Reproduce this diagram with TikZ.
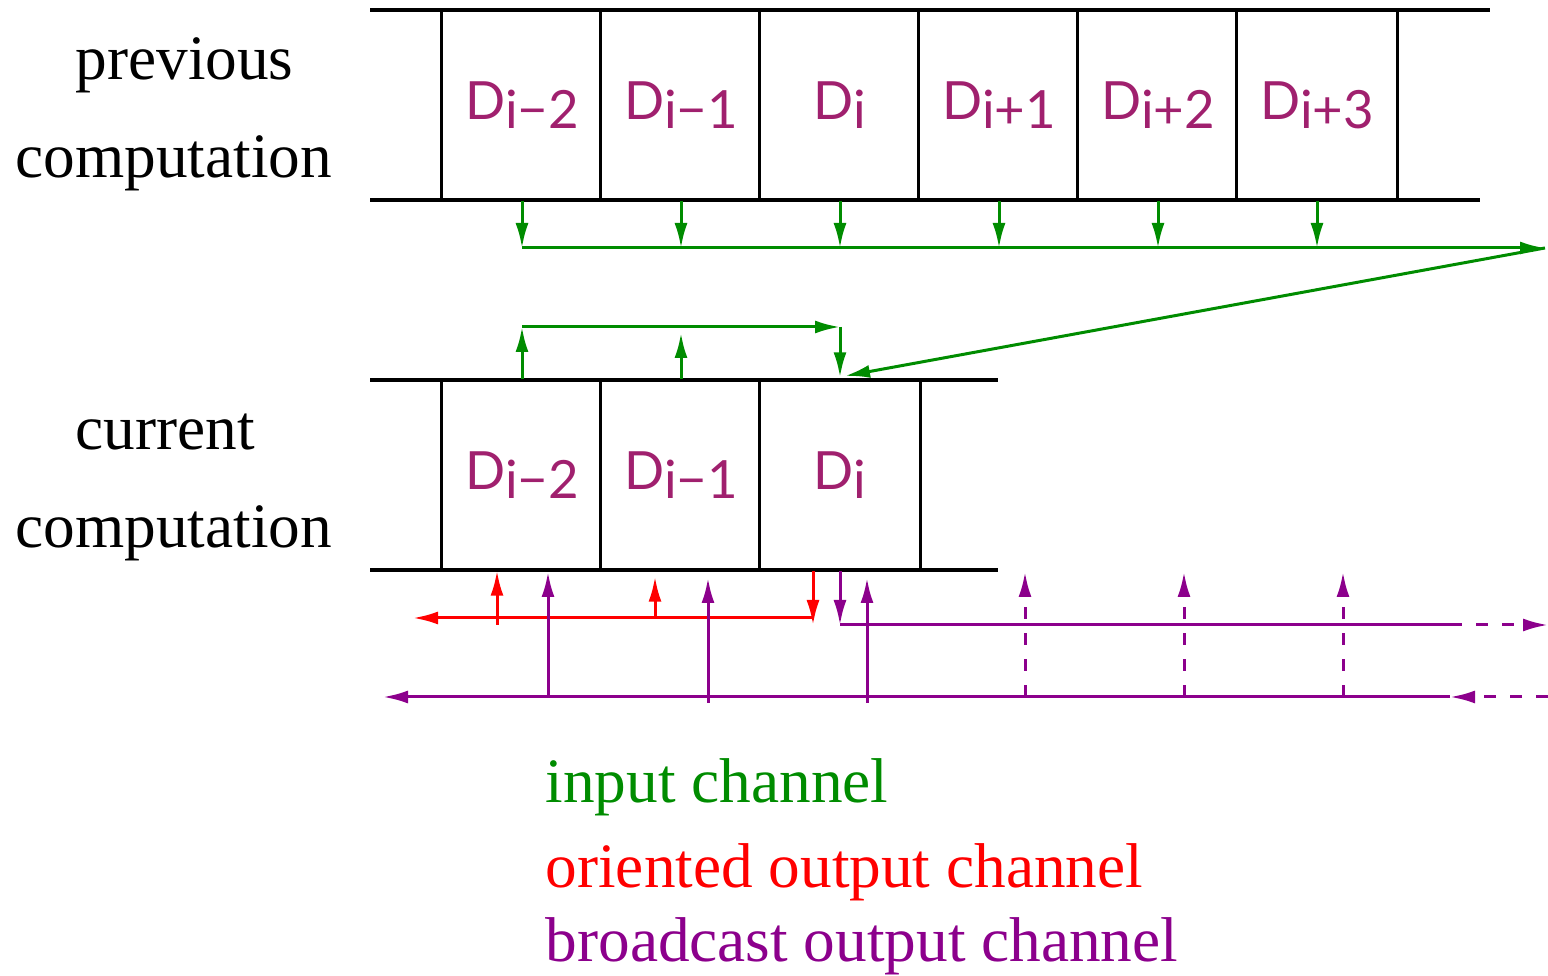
\documentclass[tikz,border=0pt]{standalone}
\usepackage{fontspec}
\setmainfont{Liberation Serif}
\newfontfamily\datafont{Lato}
\definecolor{ingreen}{RGB}{0, 140, 0}
\definecolor{orired}{RGB}{255, 0, 0}
\definecolor{bcpurple}{RGB}{140, 0, 140}
\definecolor{datamag}{RGB}{160, 32, 110}
\usetikzlibrary{arrows.meta, positioning}
\newcommand{\dlabel}[1]{D\raisebox{-0.9mm}{#1}}

\begin{document}
\begin{tikzpicture}[x=0.1mm, y=-0.1mm,
  band/.style={line width=0.32mm, black},
  cell/.style={minimum width=15.9mm, minimum height=19mm, inner sep=0pt, text=datamag, font=\datafont\fontsize{15}{17}\selectfont},
  chan/.style={line width=0.3mm, -{Latex[length=2.5mm, width=1.3mm]}},
  dashchan/.style={chan, dash pattern=on 1.2mm off 1.4mm},
  lbl/.style={anchor=base west, inner sep=0pt, font=\fontsize{18}{22}\selectfont}]
  \useasboundingbox (0,0) rectangle (1548,976);

  % Row labels
  \node[lbl] (prev1) at (75,80) {previous};
  \node[lbl] (prev2) at (15,178) {computation};
  \node[lbl] (cur1) at (75,450) {current};
  \node[lbl] (cur2) at (15,548) {computation};

  % Previous computation band
  \draw[band] (370,10) -- (1490,10);
  \draw[band] (370,200) -- (1480,200);
  \node[cell] (p1) at (522,105) {\dlabel{i−2}};
  \node[cell] (p2) at (681,105) {\dlabel{i−1}};
  \node[cell] (p3) at (840,105) {\dlabel{i}};
  \node[cell] (p4) at (999,105) {\dlabel{i+1}};
  \node[cell] (p5) at (1158,105) {\dlabel{i+2}};
  \node[cell] (p6) at (1317,105) {\dlabel{i+3}};
  \draw[band] (p1.north west) -- (p1.south west);
  \draw[band] (p2.north west) -- (p2.south west);
  \draw[band] (p3.north west) -- (p3.south west);
  \draw[band] (p4.north west) -- (p4.south west);
  \draw[band] (p5.north west) -- (p5.south west);
  \draw[band] (p6.north west) -- (p6.south west);
  \draw[band] (p6.north east) -- (p6.south east);

  % Current computation band
  \draw[band] (370,380) -- (998,380);
  \draw[band] (370,570) -- (998,570);
  \node[cell] (c1) at (522,475) {\dlabel{i−2}};
  \node[cell] (c2) at (681,475) {\dlabel{i−1}};
  \node[cell] (c3) at (840,475) {\dlabel{i}};
  \draw[band] (c1.north west) -- (c1.south west);
  \draw[band] (c2.north west) -- (c2.south west);
  \draw[band] (c3.north west) -- (c3.south west);
  \draw[band] (c3.north east) -- (c3.south east);

  % Input channel
  \coordinate (inbus) at (1545,248);
  \coordinate (inend) at (845,376);
  \coordinate (loop) at (522,327);
  \draw[chan, ingreen] (p1.south) -- (p1.south |- inbus);
  \draw[chan, ingreen] (p2.south) -- (p2.south |- inbus);
  \draw[chan, ingreen] (p3.south) -- (p3.south |- inbus);
  \draw[chan, ingreen] (p4.south) -- (p4.south |- inbus);
  \draw[chan, ingreen] (p5.south) -- (p5.south |- inbus);
  \draw[chan, ingreen] (p6.south) -- (p6.south |- inbus);
  \draw[chan, ingreen] (p1.south |- inbus) -- (inbus);
  \draw[chan, ingreen] (inbus) -- (inend);
  \draw[chan, ingreen] (c1.north) -- (c1.north |- loop);
  \draw[chan, ingreen, shorten >=0.6mm] (c2.north) -- (c2.north |- loop);
  \draw[chan, ingreen] (c1.north |- loop) -- (c3.north |- loop);
  \draw[chan, ingreen, shorten >=0.2mm] (c3.north |- loop) -- (c3.north);

  % Oriented output channel
  \coordinate (redbus) at (413,618);
  \coordinate (redup1) at (497,625);
  \coordinate (redup2) at (655,618);
  \coordinate (reddown) at (813,571);
  \draw[chan, orired] (redup1) -- (redup1 |- c1.south);
  \draw[chan, orired, shorten >=0.6mm] (redup2) -- (redup2 |- c2.south);
  \draw[chan, orired] (reddown) -- (reddown |- redup1);
  \draw[chan, orired] (reddown |- redbus) -- (redbus);

  % Broadcast output channel
  \coordinate (bcdown) at (840,571);
  \coordinate (bcright) at (1450,625);
  \coordinate (bcrightend) at (1548,625);
  \coordinate (bcleft) at (1450,697);
  \coordinate (bcleftend) at (383,697);
  \coordinate (bcfar) at (1548,697);
  \draw[chan, bcpurple] (bcdown) -- (bcdown |- bcright);
  \draw[line width=0.3mm, bcpurple] (bcdown |- bcright) -- (bcright);
  \draw[dashchan, bcpurple] (bcright) -- (bcrightend);
  \draw[dashchan, bcpurple] (bcfar) -- (bcleft);
  \draw[chan, bcpurple] (bcleft) -- (bcleftend);
  \draw[chan, bcpurple] (548,697) -- (548,572);
  \draw[chan, bcpurple] (708,703) -- (708,578);
  \draw[chan, bcpurple] (867,703) -- (867,578);
  \draw[dashchan, bcpurple] (1025,697) -- (1025,572);
  \draw[dashchan, bcpurple] (1184,697) -- (1184,572);
  \draw[dashchan, bcpurple] (1343,697) -- (1343,572);

  % Legend
  \node[lbl, text=ingreen] (leg1) at (545,803) {input channel};
  \node[lbl, text=orired] (leg2) at (545,888) {oriented output channel};
  \node[lbl, text=bcpurple] (leg3) at (545,962) {broadcast output channel};
\end{tikzpicture}
\end{document}
